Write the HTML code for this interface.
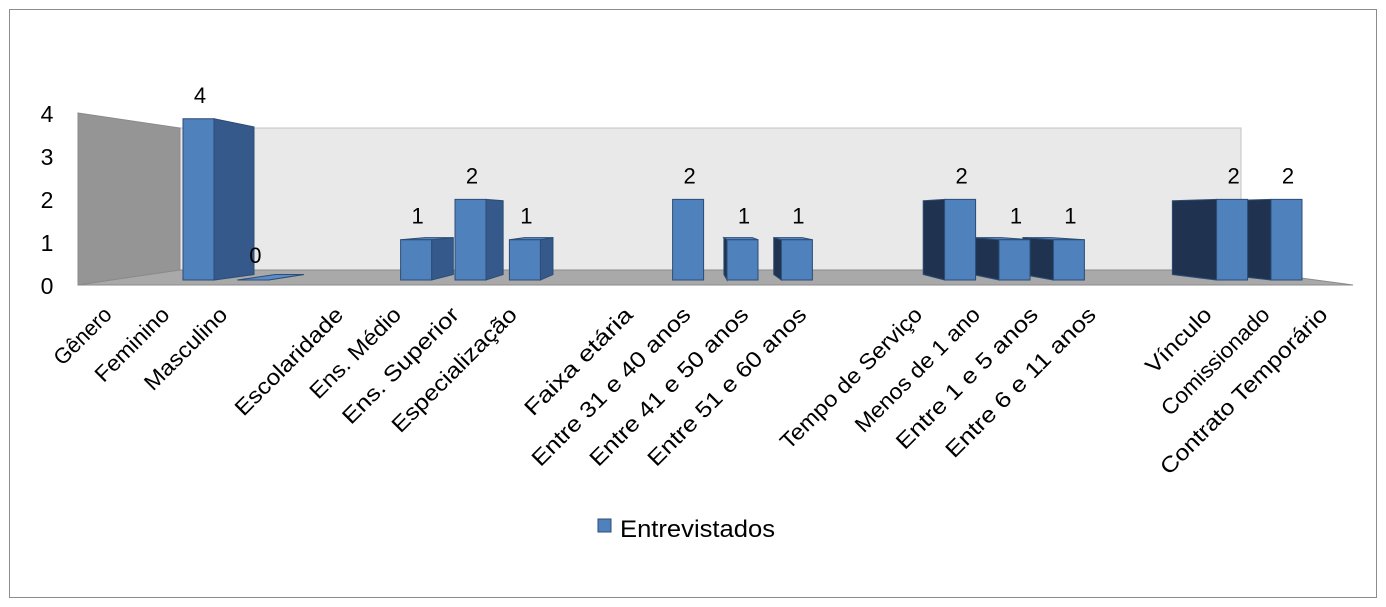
<!DOCTYPE html>
<html><head><meta charset="utf-8"><style>
body{margin:0;background:#fff}
svg{display:block;font-family:"Liberation Sans",sans-serif}
</style></head><body>
<svg id="chart" width="1386" height="607" viewBox="0 0 1386 607">
<rect x="9.5" y="9.5" width="1367" height="588" fill="#fff" stroke="#8c8c8c" stroke-width="1"/>
<polygon points="180,128 1241,128 1241,270 180,270" fill="#e9e9e9" stroke="#c4c4c4"/>
<polygon points="78,113 180,128 180,270 78,285" fill="#959595" stroke="#8a8a8a"/>
<polygon points="180,270 1241,270 1353,285 78,285" fill="#a9a9a9" stroke="#8a8a8a"/>
<g id="yaxis"></g>
<g id="bars"></g>
<g id="xaxis"></g>
<g>
<rect x="598" y="519" width="13" height="13" fill="#4f81bd" stroke="#2c4d75"/>
<text x="620" y="537" font-size="24" fill="#000" textLength="155" lengthAdjust="spacingAndGlyphs">Entrevistados</text>
</g>
</svg>
<script>
const categories=["Gênero","Feminino","Masculino","","Escolaridade","Ens. Médio","Ens. Superior","Especialização","","Faixa etária","Entre 31 e 40 anos","Entre 41 e 50 anos","Entre 51 e 60 anos","","Tempo de Serviço","Menos de 1 ano","Entre 1 e 5 anos","Entre 6 e 11 anos","","Vínculo","Comissionado","Contrato Temporário"];
const values=[null,4,0,null,null,1,2,1,null,null,2,1,1,null,null,2,1,1,null,null,2,2];
const yTicks=[0,1,2,3,4];
const NS="http://www.w3.org/2000/svg";
const base=280, unit=40.3, vx=690, vy=215, k=0.084;
function xBar(i){return 183+(i-1)*54.4;}
function yVal(v){return base-v*unit;}
function xLabel(i){return 113+i*57.9;}
function back(p){return [p[0]+(vx-p[0])*k,p[1]+(vy-p[1])*k];}
function poly(g,pts,fill,name){const e=document.createElementNS(NS,"polygon");
e.setAttribute("points",pts.map(p=>p.join(",")).join(" "));e.setAttribute("fill",fill);e.setAttribute("stroke","#2c4d75");e.setAttribute("stroke-width","1");


g.appendChild(e);}
const yg=document.getElementById("yaxis");
yTicks.forEach(t=>{const e=document.createElementNS(NS,"text");e.setAttribute("x",47);e.setAttribute("y",285-t*43+9);e.setAttribute("font-size","23");e.setAttribute("text-anchor","middle");e.textContent=t;


yg.appendChild(e);});
const bg=document.getElementById("bars");
const idx=values.map((v,i)=>i).filter(i=>values[i]!==null);
const left=idx.filter(i=>xBar(i)+15<vx), right=idx.filter(i=>xBar(i)+15>=vx).reverse();
left.concat(right).forEach(i=>{
 const v=values[i], x0=xBar(i), x1=x0+31, yt=yVal(v);
 const g=document.createElementNS(NS,"g");
 
 
 bg.appendChild(g);
 const fTL=[x0,yt],fTR=[x1,yt],fBL=[x0,base],fBR=[x1,base];
 const bTL=back(fTL),bTR=back(fTR),bBL=back(fBL),bBR=back(fBR);
 if(x1<vx) poly(g,[fTR,bTR,bBR,fBR],"#34598a","bar-side");
 if(x0>vx) poly(g,[bTL,fTL,fBL,bBL],"#1f3350","bar-side");
 if(yt>vy) poly(g,[fTL,fTR,bTR,bTL],"#5b8cc8","bar-top");
 if(v>0) poly(g,[fTL,fTR,fBR,fBL],"#4f81bd","bar-front");
 const t=document.createElementNS(NS,"text");
 t.setAttribute("x",x0+17+(v===0?1:0));t.setAttribute("y",v===0?263:yt-16);t.setAttribute("font-size","22");t.setAttribute("text-anchor","middle");t.textContent=v;
 
 
 g.appendChild(t);
});
const xg=document.getElementById("xaxis");
categories.forEach((c,i)=>{if(!c)return;const e=document.createElementNS(NS,"text");
const x=xLabel(i), y=316;
e.setAttribute("x",x);e.setAttribute("y",y);e.setAttribute("font-size","22");e.setAttribute("text-anchor","end");
e.setAttribute("textLength",(c.length*11.9).toFixed(1));e.setAttribute("lengthAdjust","spacingAndGlyphs");
e.setAttribute("transform","rotate(-45 "+x+" "+y+")");e.textContent=c;


xg.appendChild(e);});
</script>
</body></html>
